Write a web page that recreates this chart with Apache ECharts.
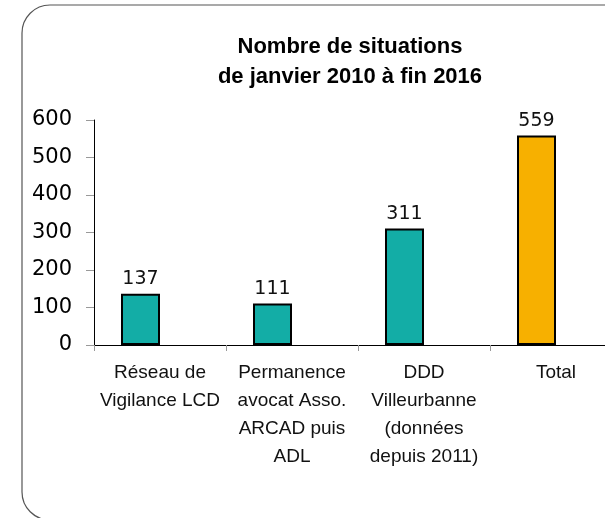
<!DOCTYPE html>
<html>
<head>
<meta charset="utf-8">
<script src="https://cdn.jsdelivr.net/npm/echarts@6/dist/echarts.min.js"></script>
<style>
  html, body { margin: 0; padding: 0; background: #fff; overflow: hidden; }
  /* le graphique déborde à droite comme l'original */
  #chart { width: 640px; height: 518px; }
</style>
</head>
<body>
<div id="chart"></div>
<script>
// données
const categories = [
  "Réseau de\nVigilance LCD",
  "Permanence\navocat Asso.\nARCAD puis\nADL",
  "DDD\nVilleurbanne\n(données\ndepuis 2011)",
  "Total"
]
const values = [137, 111, 311, 559]
const barColors = ["#13ada6", "#13ada6", "#13ada6", "#f7b000"]
const yTicks = [0, 100, 200, 300, 400, 500, 600]

const chart = echarts.init(document.getElementById("chart"))

chart.setOption({
  animation: false,
  backgroundColor: "#fff",
  title: {
    text: "Nombre de situations\nde janvier 2010 à fin 2016",
    left: 345,
    top: 27,
    textAlign: "center",
    textStyle: {
      fontFamily: "Liberation Sans",
      fontWeight: "bold",
      fontSize: 22,
      lineHeight: 30,
      color: "#000"
    }
  },
  graphic: [{
    type: "rect",
    z: -1,
    shape: { x: 22, y: 5, width: 640, height: 515, r: 28 },
    style: { fill: "none", stroke: "#555", lineWidth: 1.2 }
  }],
  grid: {
    left: 94,
    top: 120,
    width: 528,
    height: 225
  },
  xAxis: {
    type: "category",
    data: categories,
    axisLine: { lineStyle: { color: "#000", width: 1 } },
    axisTick: { show: true, length: 6, lineStyle: { color: "#999" } },
    axisLabel: {
      interval: 0,
      margin: 14,
      fontFamily: "Liberation Sans",
      fontSize: 19,
      lineHeight: 28,
      color: "#111"
    }
  },
  yAxis: {
    type: "value",
    min: yTicks[0],
    max: yTicks[yTicks.length - 1],
    interval: yTicks[1] - yTicks[0],
    splitLine: { show: false },
    axisLine: { show: true, lineStyle: { color: "#000", width: 1 } },
    axisTick: { show: true, length: 8, lineStyle: { color: "#999" } },
    axisLabel: {
      margin: 22,
      fontFamily: "DejaVu Sans",
      fontSize: 21,
      color: "#000"
    }
  },
  series: [
    {
      type: "bar",
      barWidth: 39,
      barGap: "0%",
      data: values.map((v, i) => ({
        value: v,
        itemStyle: { color: barColors[i] }
      })),
      itemStyle: { borderColor: "#000", borderWidth: 2 },
      label: {
        show: true,
        position: "top",
        distance: 5,
        fontFamily: "DejaVu Sans",
        fontSize: 19,
        color: "#111"
      }
    },
    {
      // série vide, la barre est décalée à gauche comme dans Excel
      type: "bar",
      barWidth: 39,
      data: values.map(() => "-")
    }
  ]
})
</script>
</body>
</html>
